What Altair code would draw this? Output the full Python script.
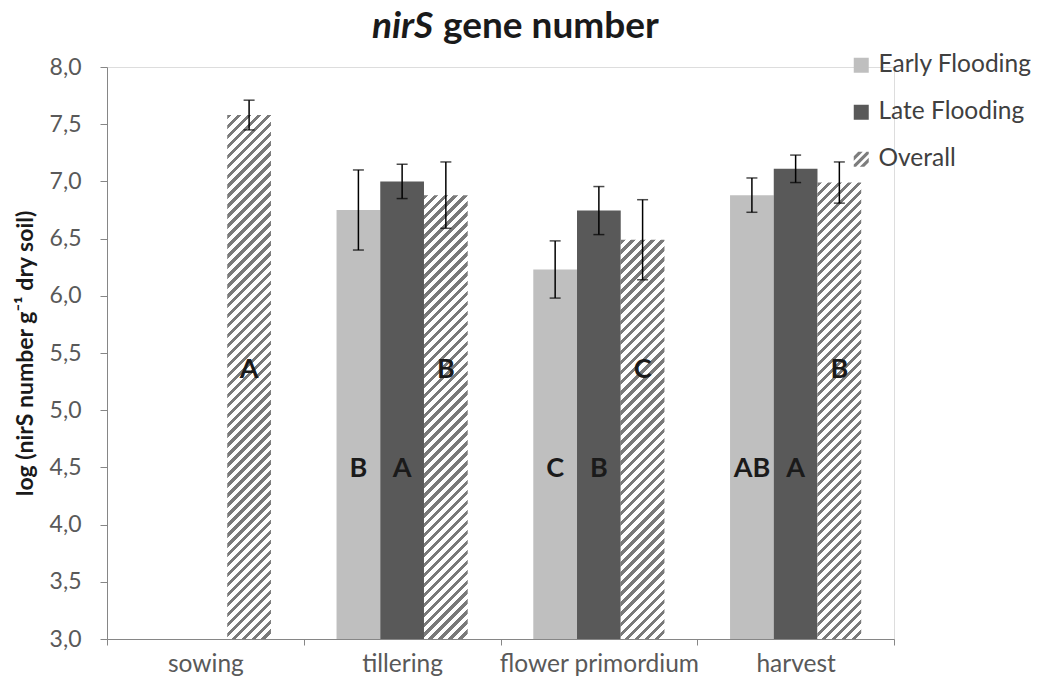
import altair as alt
import pandas as pd

# ---------------- data ----------------
stages = ["sowing", "tillering", "flower primordium", "harvest"]
series = ["Early Flooding", "Late Flooding", "Overall"]

early_mean = [None, 6.75, 6.23, 6.88]
early_err = [None, 0.35, 0.25, 0.15]
early_letter = [None, "B", "C", "AB"]

late_mean = [None, 7.00, 6.745, 7.11]
late_err = [None, 0.15, 0.21, 0.12]
late_letter = [None, "A", "B", "A"]

overall_mean = [7.58, 6.88, 6.49, 6.99]
overall_err = [0.13, 0.29, 0.35, 0.18]
overall_letter = ["A", "B", "C", "B"]

y_ticks = [3.0, 3.5, 4.0, 4.5, 5.0, 5.5, 6.0, 6.5, 7.0, 7.5, 8.0]
title_italic = "nirS"
title_rest = "gene number"
y_title = "log (nirS number g\u207b\u00b9 dry soil)"

# ---------------- layout / style ----------------
PLOT_W, PLOT_H = 787, 572
Y_MIN, Y_MAX = 3.0, 8.0
OFF_PAD = 0.75
FONT = "Lato"
COLORS = ["#bfbfbf", "#595959", "#7d7d7d"]
HATCH_DARK, HATCH_LIGHT = "#7a7a7a", "#ffffff"
HATCH_PERIOD, HATCH_DUTY = 10.0, 0.45
AXIS_GRAY = "#868686"
LABEL_GRAY = "#595959"
HATCH_PATH = ("M-1,-0.4L-0.4,-1L0.2,-1L-1,0.2Z "
              "M-1,0.7L0.7,-1L1,-1L1,-0.7L-0.7,1L-1,1Z "
              "M-0.2,1L1,-0.2L1,0.4L0.4,1Z")

rows = []
for s, means, errs, lets in zip(series,
                                [early_mean, late_mean, overall_mean],
                                [early_err, late_err, overall_err],
                                [early_letter, late_letter, overall_letter]):
    for st, m, e, l in zip(stages, means, errs, lets):
        if m is None:
            continue
        rows.append(dict(stage=st, series=s, mean=m, lo=m - e, hi=m + e, letter=l))
df = pd.DataFrame(rows)

x_enc = alt.X("stage:N", sort=stages,
              scale=alt.Scale(domain=stages, paddingInner=0, paddingOuter=0),
              axis=alt.Axis(title=None, tickBand="extent", labelAngle=0,
                            labelFontSize=24.5, labelColor=LABEL_GRAY, labelFont=FONT,
                            tickSize=6, labelPadding=7, tickColor=AXIS_GRAY,
                            domainColor=AXIS_GRAY, labelOverlap=False, labelLimit=0))
off_enc = alt.XOffset("series:N",
                      scale=alt.Scale(domain=series, paddingInner=0, paddingOuter=OFF_PAD))
y_scale = alt.Scale(domain=[Y_MIN, Y_MAX], zero=False, nice=False)
y_enc = alt.Y("mean:Q", scale=y_scale,
              axis=alt.Axis(title=y_title, values=y_ticks, grid=False,
                            labelExpr="replace(format(datum.value, '.1f'), '.', ',')",
                            labelFontSize=23, labelColor=LABEL_GRAY, labelFont=FONT,
                            tickSize=7, labelPadding=19, tickColor=AXIS_GRAY,
                            domainColor=AXIS_GRAY,
                            titleFont=FONT, titleFontSize=23, titleFontWeight="bold",
                            titleColor="#1a1a1a", titleX=-82, titleY=PLOT_H / 2,
                            titleAngle=-90, titleAlign="center", titleBaseline="middle"))
color_scale = alt.Scale(domain=series, range=COLORS)
shape_scale = alt.Scale(domain=series, range=["square", "square", HATCH_PATH])

legend = alt.Legend(title=None, orient="none", legendX=742, legendY=-14,
                    labelFontSize=24.5, labelFont=FONT, labelColor="#404040",
                    symbolSize=225, symbolStrokeWidth=0, symbolOpacity=1, rowPadding=22,
                    labelOffset=5, padding=0)

base = alt.Chart(df)

solid = base.transform_filter(alt.datum.series != "Overall").mark_bar().encode(
    x=x_enc, xOffset=off_enc, y=y_enc, y2=alt.datum(Y_MIN),
    color=alt.Color("series:N", scale=color_scale, legend=legend),
)


def hatch(value):
    bar_w = PLOT_W / len(stages) / (len(series) + 2 * OFF_PAD)
    bar_h = (value - Y_MIN) / (Y_MAX - Y_MIN) * PLOT_H
    span = bar_w + bar_h
    n = max(1, round(span / HATCH_PERIOD))
    k = span / (bar_w ** 2 + bar_h ** 2)
    stops = []
    for i in range(n):
        a = i / n
        b = (i + HATCH_DUTY) / n
        c = (i + 1) / n
        stops += [alt.GradientStop(offset=a, color=HATCH_DARK),
                  alt.GradientStop(offset=b, color=HATCH_DARK),
                  alt.GradientStop(offset=b, color=HATCH_LIGHT),
                  alt.GradientStop(offset=c, color=HATCH_LIGHT)]
    return alt.LinearGradient(gradient="linear", stops=stops,
                              x1=0, y1=0, x2=bar_w * k, y2=bar_h * k)


hatched = []
for st, m in zip(stages, overall_mean):
    hatched.append(
        base.transform_filter((alt.datum.series == "Overall") & (alt.datum.stage == st))
        .mark_bar(fill=hatch(m))
        .encode(x=x_enc, xOffset=off_enc, y=y_enc, y2=alt.datum(Y_MIN))
    )

err_rule = base.mark_rule(color="#000000", strokeWidth=1.5).encode(
    x=x_enc, xOffset=off_enc, y=alt.Y("lo:Q", scale=y_scale), y2="hi:Q")
cap_hi = base.mark_tick(color="#000000", thickness=1.5, size=11).encode(
    x=x_enc, xOffset=off_enc, y=alt.Y("hi:Q", scale=y_scale))
cap_lo = base.mark_tick(color="#000000", thickness=1.5, size=11).encode(
    x=x_enc, xOffset=off_enc, y=alt.Y("lo:Q", scale=y_scale))

letter_style = dict(font=FONT, fontSize=27, fontWeight="bold", color="#1a1a1a",
                    baseline="middle", align="center")
letters_ov = base.transform_filter(alt.datum.series == "Overall").mark_text(**letter_style).encode(
    x=x_enc, xOffset=off_enc, y=alt.datum(5.35), text="letter:N")
letters_fl = base.transform_filter(alt.datum.series != "Overall").mark_text(**letter_style).encode(
    x=x_enc, xOffset=off_enc, y=alt.datum(4.49), text="letter:N")

legend_layer = alt.Chart(pd.DataFrame({"series": series})).mark_point(
    filled=True, clip=True, opacity=1).encode(
    x=alt.value(0), y=alt.value(-1000),
    color=alt.Color("series:N", scale=color_scale, legend=legend),
    shape=alt.Shape("series:N", scale=shape_scale, legend=legend),
)

title_a = alt.Chart(pd.DataFrame({"t": [title_italic]})).mark_text(
    font=FONT, fontSize=37, fontWeight="bold", fontStyle="italic", align="right",
    baseline="alphabetic", color="#1a1a1a").encode(
    text="t:N", x=alt.value(326), y=alt.value(-29))
title_b = alt.Chart(pd.DataFrame({"t": [title_rest]})).mark_text(
    font=FONT, fontSize=37, fontWeight="bold", align="left",
    baseline="alphabetic", color="#1a1a1a").encode(
    text="t:N", x=alt.value(336), y=alt.value(-29))

chart = alt.layer(solid, *hatched, err_rule, cap_hi, cap_lo, letters_ov, letters_fl,
                  legend_layer, title_a, title_b).properties(
    width=PLOT_W, height=PLOT_H,
    autosize=alt.AutoSizeParams(type="none"),
    padding={"left": 99, "top": 59, "right": 137, "bottom": 43},
).configure_view(stroke="transparent").configure(font=FONT)

chart.save("out.html", embed_options={"renderer": "svg", "actions": False})
